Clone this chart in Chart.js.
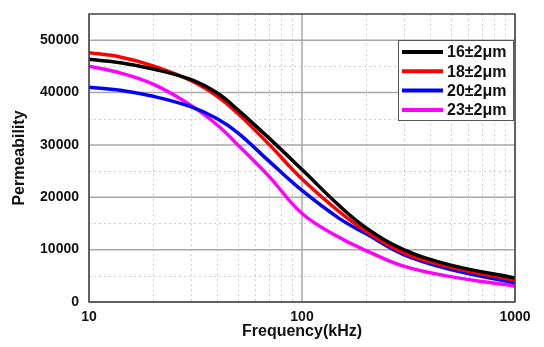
<!DOCTYPE html>
<html>
<head>
<meta charset="utf-8">
<script src="https://cdn.jsdelivr.net/npm/chart.js@4/dist/chart.umd.min.js"></script>
<style>
  html, body { margin: 0; padding: 0; background: #fff; }
  #wrap { width: 544px; height: 347px; }
</style>
</head>
<body>
<div id="wrap"><canvas id="c" width="544" height="347"></canvas></div>
<script>
// frequencies (kHz)
var freq = [10, 14, 20, 30, 40, 50, 70, 100, 150, 200, 300, 500, 1000];

var seriesNames = ['16\u00b12\u03bcm', '18\u00b12\u03bcm', '20\u00b12\u03bcm', '23\u00b12\u03bcm'];
var seriesColors = ['#000000', '#ff0000', '#0000ff', '#ff00ff'];

var perm16 = [46350, 45700, 44500, 42500, 39900, 36700, 31300, 25300, 18350, 14160, 10020, 7050, 4600];
var perm18 = [47600, 46800, 45100, 42300, 39300, 36000, 30100, 23500, 17220, 13500, 9390, 6650, 4160];
var perm20 = [41030, 40450, 39280, 37300, 35000, 32300, 26900, 21300, 15920, 13020, 9060, 6200, 3660];
var perm23 = [45040, 43750, 41600, 37600, 33800, 30000, 24000, 16900, 12300, 9830, 6850, 4850, 3020];

var xTicks = [10, 100, 1000];
var xMinor = [20, 30, 40, 50, 60, 70, 80, 90, 200, 300, 400, 500, 600, 700, 800, 900];
var yTicks = [0, 10000, 20000, 30000, 40000, 50000];
var yMinor = [5000, 15000, 25000, 35000, 45000];

var allSeries = [perm16, perm18, perm20, perm23];

function toPoints(vals) {
  var pts = [];
  for (var i = 0; i < freq.length; i++) pts.push({ x: freq[i], y: vals[i] });
  return pts;
}

var datasets = allSeries.map(function (vals, i) {
  return {
    label: seriesNames[i],
    data: toPoints(vals),
    borderColor: seriesColors[i],
    backgroundColor: seriesColors[i],
    borderWidth: 3.5,
    pointRadius: 0,
    fill: false,
    tension: 0.4
  };
});

// grid + frame drawn by hand so minor lines can be dotted
var gridPlugin = {
  id: 'gridPlugin',
  beforeDatasetsDraw: function (chart) {
    var ctx = chart.ctx, a = chart.chartArea;
    var xs = chart.scales.x, ys = chart.scales.y;
    ctx.save();
    ctx.lineWidth = 1;
    ctx.strokeStyle = '#d0d0d0';
    ctx.setLineDash([2, 3]);
    xMinor.forEach(function (v) {
      var px = Math.round(xs.getPixelForValue(v)) + 0.5;
      ctx.beginPath(); ctx.moveTo(px, a.top); ctx.lineTo(px, a.bottom); ctx.stroke();
    });
    yMinor.forEach(function (v) {
      var py = Math.round(ys.getPixelForValue(v)) + 0.5;
      ctx.beginPath(); ctx.moveTo(a.left, py); ctx.lineTo(a.right, py); ctx.stroke();
    });
    ctx.setLineDash([]);
    ctx.strokeStyle = '#a8a8a8';
    ctx.lineWidth = 1.5;
    xTicks.forEach(function (v) {
      var px = xs.getPixelForValue(v);
      ctx.beginPath(); ctx.moveTo(px, a.top); ctx.lineTo(px, a.bottom); ctx.stroke();
    });
    yTicks.forEach(function (v) {
      var py = ys.getPixelForValue(v);
      ctx.beginPath(); ctx.moveTo(a.left, py); ctx.lineTo(a.right, py); ctx.stroke();
    });
    ctx.restore();
  },
  afterDatasetsDraw: function (chart) {
    var ctx = chart.ctx, a = chart.chartArea;
    ctx.save();
    ctx.strokeStyle = '#444';
    ctx.lineWidth = 1.5;
    ctx.strokeRect(a.left, a.top, a.right - a.left, a.bottom - a.top);

    // legend box inside the plot, top right
    var bx = a.right - 117, by = a.top + 26, bw = 115, bh = 80;
    ctx.fillStyle = '#fff';
    ctx.fillRect(bx, by, bw, bh);
    ctx.strokeStyle = '#555';
    ctx.lineWidth = 1;
    ctx.strokeRect(bx + 0.5, by + 0.5, bw, bh);
    ctx.font = 'bold 16px "Liberation Sans", Arial, sans-serif';
    ctx.textBaseline = 'middle';
    ctx.textAlign = 'left';
    chart.data.datasets.forEach(function (ds, i) {
      var ry = by + 12 + i * 19.3;
      ctx.strokeStyle = ds.borderColor;
      ctx.lineWidth = 4;
      ctx.beginPath(); ctx.moveTo(bx + 4, ry); ctx.lineTo(bx + 45, ry); ctx.stroke();
      ctx.fillStyle = '#111';
      ctx.fillText(ds.label, bx + 49, ry + 1);
    });
    ctx.restore();
  }
};

var tickFont = { family: '"Liberation Sans", Arial, sans-serif', size: 14, weight: 'bold' };
var titleFont = { family: '"Liberation Sans", Arial, sans-serif', size: 16, weight: 'bold' };

new Chart(document.getElementById('c'), {
  type: 'line',
  data: { datasets: datasets },
  options: {
    responsive: false,
    animation: false,
    layout: { padding: { left: 0, right: 29, top: 14, bottom: 0 } },
    plugins: { legend: { display: false }, tooltip: { enabled: false } },
    scales: {
      x: {
        type: 'logarithmic',
        min: 10,
        max: 1000,
        grid: { display: false, drawTicks: false },
        border: { display: false },
        afterBuildTicks: function (s) { s.ticks = xTicks.map(function (v) { return { value: v }; }); },
        afterFit: function (s) { s.height = 45; },
        ticks: {
          color: '#111', font: tickFont, padding: 7, maxRotation: 0, autoSkip: false,
          callback: function (v) { return String(v); }
        },
        title: { display: true, text: 'Frequency(kHz)', color: '#111', font: titleFont, padding: { top: 0, bottom: 6 } }
      },
      y: {
        type: 'linear',
        min: 0,
        max: 55000,
        grid: { display: false, drawTicks: false },
        border: { display: false },
        afterBuildTicks: function (s) { s.ticks = yTicks.map(function (v) { return { value: v }; }); },
        afterFit: function (s) { s.width = 89; s.paddingTop = 0; s.paddingBottom = 0; },
        ticks: {
          color: '#111', font: tickFont, padding: 10,
          callback: function (v) { return String(v); }
        },
        title: { display: true, text: 'Permeability', color: '#111', font: titleFont, padding: { top: 10, bottom: 0 } }
      }
    }
  },
  plugins: [gridPlugin]
});
</script>
</body>
</html>
